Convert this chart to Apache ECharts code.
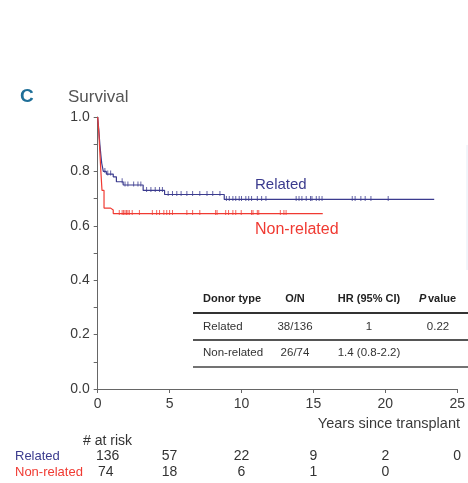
<!DOCTYPE html>
<html><head><meta charset="utf-8">
<script src="https://cdn.jsdelivr.net/npm/echarts@6/dist/echarts.min.js"></script>
<style>html,body{margin:0;padding:0;background:#fff}#c{width:468px;height:483px}</style>
</head><body><div id="c"></div>
<script>
// Kaplan-Meier step data (time in years, survival)
var relatedTimes = [0, 0.08, 0.15, 0.22, 0.28, 0.39, 0.6, 1.08, 1.3, 1.77, 3.16, 4.65, 8.8, 23.4];
var relatedSurv  = [1.0, 0.95, 0.9, 0.86, 0.83, 0.80, 0.79, 0.78, 0.762, 0.75, 0.73, 0.715, 0.697, 0.697];
var nonRelTimes = [0, 0.08, 0.15, 0.22, 0.3, 0.44, 0.9, 1.08, 15.65];
var nonRelSurv  = [1.0, 0.94, 0.87, 0.8, 0.73, 0.665, 0.658, 0.645, 0.645];
// censoring marks (years)
var relatedCensor = [0.5, 0.7, 0.9, 1.7, 1.9, 2.1, 2.5, 2.8, 3.0, 3.4, 3.7, 4.0, 4.3, 4.5, 4.9, 5.2, 5.5, 5.8, 6.2, 6.6, 7.1, 7.6, 8.0, 8.5,
  8.95, 9.15, 9.4, 9.6, 9.84, 10.0, 10.3, 10.5, 10.7, 11.1, 11.4, 11.7, 13.8, 14.0, 14.2, 14.5, 14.8, 14.9, 15.2, 15.4, 15.6,
  17.7, 17.9, 18.3, 18.6, 19.0, 20.2];
var nonRelCensor = [1.5, 1.7, 1.8, 1.9, 2.0, 2.1, 2.2, 2.4, 2.9, 3.8, 4.1, 4.3, 4.6, 4.8, 5.0, 5.2, 6.2, 6.6, 7.1, 8.2, 8.3,
  8.9, 9.1, 9.4, 9.6, 9.98, 10.7, 10.8, 11.1, 11.2, 12.7, 12.95, 13.1];
// axis ticks
var xTicks = [0, 5, 10, 15, 20, 25];
// numbers at risk
var riskRelated = [136, 57, 22, 9, 2, 0];
var riskNonRel  = [74, 18, 6, 1, 0];
// table
var tableHeader = ['Donor type', 'O/N', 'HR (95% CI)', 'P value'];
var tableRows = [['Related', '38/136', '1', '0.22'], ['Non-related', '26/74', '1.4 (0.8-2.2)', '']];

var BLUE = '#3b3b8e', RED = '#f03a32', FONT = 'Liberation Sans, Arial, sans-serif';
function pairs(t, s) { return t.map(function (v, i) { return [v, s[i]]; }); }
function survAt(t, s, x) { var v = s[0]; for (var i = 0; i < t.length; i++) { if (t[i] <= x) v = s[i]; } return v; }
function censorPts(ct, t, s) { return ct.map(function (x) { return [x, survAt(t, s, x)]; }); }

var chart = echarts.init(document.getElementById('c'), null, {renderer: 'canvas'});
var option = {
  animation: false,
  grid: {left: 97.7, right: 8.7, top: 117, bottom: 94, containLabel: false},
  xAxis: {
    type: 'value', min: 0, max: 25, interval: 5,
    axisLine: {show: true, lineStyle: {color: '#666', width: 1}},
    axisTick: {show: true, length: 4, lineStyle: {color: '#666'}},
    axisLabel: {color: '#3a3a3a', fontSize: 14, fontFamily: FONT, margin: 8},
    splitLine: {show: false}
  },
  yAxis: {
    type: 'value', min: 0, max: 1, interval: 0.2,
    axisLine: {show: true, lineStyle: {color: '#666', width: 1}},
    axisTick: {show: true, length: 4, lineStyle: {color: '#666'}},
    minorTick: {show: true, splitNumber: 2, length: 4, lineStyle: {color: '#666'}},
    axisLabel: {color: '#3a3a3a', fontSize: 14, fontFamily: FONT, margin: 8, formatter: function (v) { return v.toFixed(1); }},
    splitLine: {show: false}
  },
  series: [
    {type: 'line', step: 'end', symbol: 'none', data: pairs(relatedTimes, relatedSurv), lineStyle: {color: BLUE, width: 1.2}, z: 3},
    {type: 'line', step: 'end', symbol: 'none', data: pairs(nonRelTimes, nonRelSurv), lineStyle: {color: RED, width: 1.2}, z: 3},
    {type: 'scatter', symbol: 'rect', symbolSize: [1, 5], symbolOffset: [0, -1], itemStyle: {color: BLUE}, data: censorPts(relatedCensor, relatedTimes, relatedSurv)},
    {type: 'scatter', symbol: 'rect', symbolSize: [1, 5], symbolOffset: [0, -1], itemStyle: {color: RED}, data: censorPts(nonRelCensor, nonRelTimes, nonRelSurv)}
  ]
};
chart.setOption(option);

function px(x) { return chart.convertToPixel({xAxisIndex: 0}, x); }
var g = [];
function txt(x, y, s, o) {
  o = o || {};
  g.push({type: 'text', x: x, y: y, z: 10, style: {text: s, fill: o.fill || '#333', font: (o.style || '') + ' ' + (o.weight || 'normal') + ' ' + (o.size || 14) + 'px ' + FONT,
    textAlign: o.align || 'left', textVerticalAlign: 'middle'}});
}
function line(x1, y1, x2, y2, w, c) {
  g.push({type: 'line', z: 10, shape: {x1: x1, y1: y1, x2: x2, y2: y2}, style: {stroke: c || '#444', lineWidth: w || 1}});
}
txt(20, 97, 'C', {fill: '#1f6f98', weight: 'bold', size: 19});
txt(68, 97, 'Survival', {fill: '#555', size: 17});
txt(255, 185, 'Related', {fill: BLUE, size: 15});
txt(255, 230, 'Non-related', {fill: RED, size: 16});
txt(460, 424, 'Years since transplant', {fill: '#3a3a3a', size: 14.5, align: 'right'});
txt(83, 441, '# at risk', {fill: '#333', size: 14});
txt(15, 456, 'Related', {fill: BLUE, size: 13});
txt(15, 472, 'Non-related', {fill: RED, size: 13});
riskRelated.forEach(function (v, i) { txt(px(xTicks[i]) + (i === 0 ? 10 : 0), 456, String(v), {size: 14, align: 'center'}); });
riskNonRel.forEach(function (v, i) { txt(px(xTicks[i]) + (i === 0 ? 8 : 0), 472, String(v), {size: 14, align: 'center'}); });
// table
var colX = [203, 295, 369, 438];
var colAlign = ['left', 'center', 'center', 'center'];
tableHeader.forEach(function (h, i) {
  if (i === 3) {
    txt(419, 299, 'P', {weight: 'bold', style: 'italic', size: 11, fill: '#222'});
    txt(428, 299, 'value', {weight: 'bold', size: 11, fill: '#222'});
  } else txt(colX[i], 299, h, {weight: 'bold', size: 11, fill: '#222', align: colAlign[i]});
});
line(193, 313, 468, 313, 2, '#333');
tableRows.forEach(function (r, j) {
  var y = 327 + j * 26;
  r.forEach(function (c, i) { if (c) txt(colX[i], y, c, {size: 11.5, fill: '#333', align: colAlign[i]}); });
});
line(193, 340, 468, 340, 2, '#555');
line(193, 367, 468, 367, 1.5, '#444');
line(467, 145, 467, 270, 1, '#e4eaf4');
chart.setOption({graphic: g});
</script></body></html>
